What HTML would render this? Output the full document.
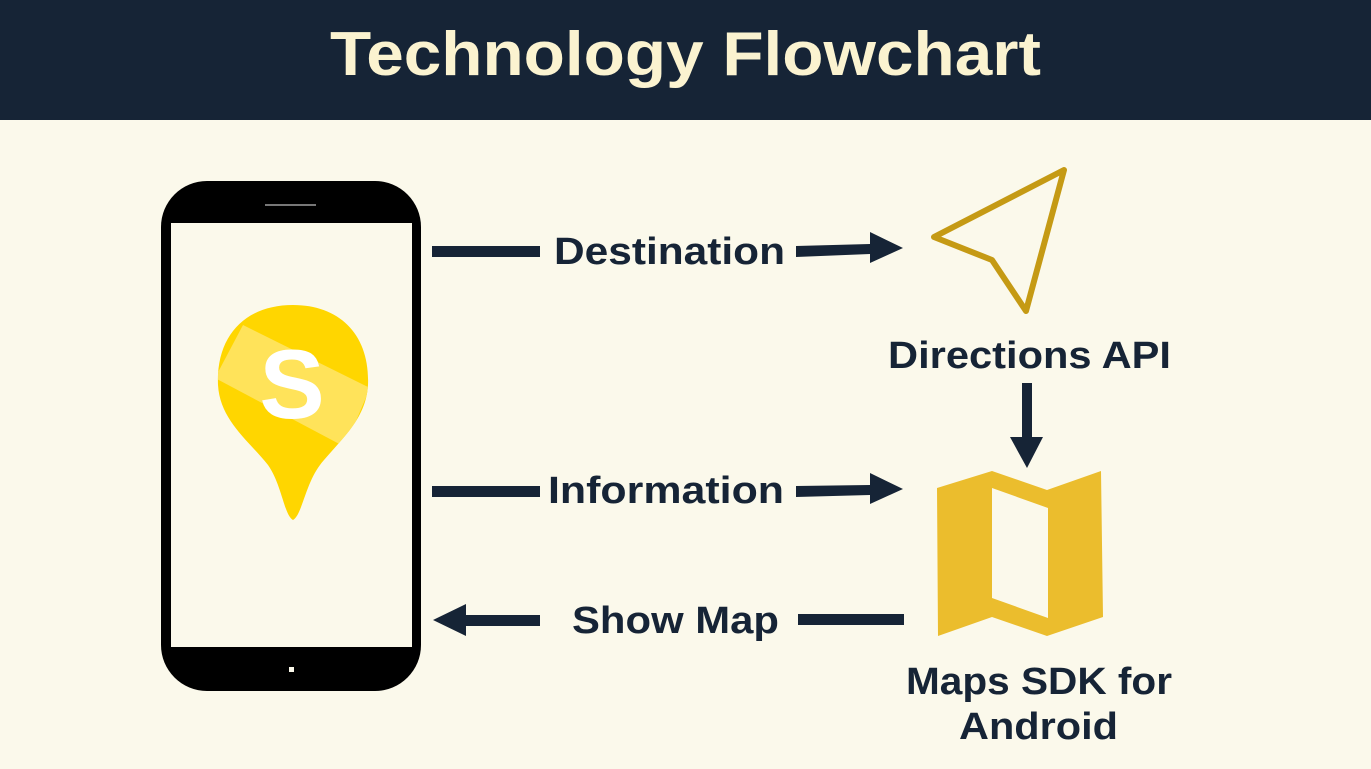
<!DOCTYPE html>
<html><head><meta charset="utf-8"><style>
html,body{margin:0;padding:0;width:1371px;height:769px;overflow:hidden;background:#fbf9eb}
svg{display:block}
text{font-family:"Liberation Sans",sans-serif;font-weight:bold}
</style></head><body>
<svg width="1371" height="769" viewBox="0 0 1371 769">
<rect x="0" y="0" width="1371" height="769" fill="#fbf9eb"/>
<rect x="0" y="0" width="1371" height="120" fill="#162436"/>
<text x="330" y="75" font-size="62" fill="#fbf3d0" textLength="711" lengthAdjust="spacingAndGlyphs">Technology Flowchart</text>

<!-- phone -->
<rect x="161" y="181" width="260" height="510" rx="46" fill="#000"/>
<rect x="171" y="223" width="241" height="424" fill="#fbf9eb"/>
<rect x="265" y="204" width="51" height="2" fill="#777"/>
<rect x="289" y="667" width="5" height="5" fill="#fbf9eb"/>

<!-- pin -->
<defs><clipPath id="pc"><path d="M293,305 C340,305 370,335 368,385 C366,420 340,440 320,465 C305,485 302,515 293,520 C284,515 282,485 268,465 C248,440 220,420 218,385 C216,335 246,305 293,305 Z"/></clipPath></defs>
<path d="M293,305 C340,305 370,335 368,385 C366,420 340,440 320,465 C305,485 302,515 293,520 C284,515 282,485 268,465 C248,440 220,420 218,385 C216,335 246,305 293,305 Z" fill="#ffd600"/>
<g clip-path="url(#pc)"><polygon points="243,325 370,388 345,447 215,378" fill="#ffe35a"/></g>
<text x="292" y="418" font-size="98" fill="#fff" text-anchor="middle">S</text>

<g fill="#162436">
<!-- destination -->
<rect x="432" y="246" width="108" height="11"/>
<polygon points="796,246 870,244 870,232 903,248 870,263 870,254 796,257"/>
<text x="554" y="264" font-size="38" textLength="231" lengthAdjust="spacingAndGlyphs">Destination</text>
<!-- information -->
<rect x="432" y="486" width="108" height="11"/>
<polygon points="796,486 870,485 870,473 903,489 870,504 870,495 796,497"/>
<text x="548" y="503" font-size="38" textLength="236" lengthAdjust="spacingAndGlyphs">Information</text>
<!-- show map -->
<polygon points="540,615 466,615 466,604 433,620 466,636 466,626 540,626"/>
<rect x="798" y="614" width="106" height="11"/>
<text x="572" y="633" font-size="38" textLength="207" lengthAdjust="spacingAndGlyphs">Show Map</text>
<!-- down arrow -->
<polygon points="1022,383 1032,383 1032,437 1043,437 1027,468 1010,437 1022,437"/>
<text x="888" y="368" font-size="38" textLength="283" lengthAdjust="spacingAndGlyphs">Directions API</text>
<text x="906" y="694" font-size="38" textLength="266" lengthAdjust="spacingAndGlyphs">Maps SDK for</text>
<text x="959" y="739" font-size="38" textLength="159" lengthAdjust="spacingAndGlyphs">Android</text>
</g>

<!-- nav arrow -->
<path d="M1064,170 L934,237 L992,260 L1026,311 Z" fill="none" stroke="#c59a14" stroke-width="6" stroke-linejoin="round" stroke-linecap="round"/>

<!-- map -->
<path d="M937,488 L992,471 L1047,490 L1101,471 L1103,617 L1047,636 L992,617 L938,636 Z M992,488 L992,598 L1048,618 L1048,508 Z" fill="#ebbd2d" fill-rule="evenodd"/>
</svg>
</body></html>
